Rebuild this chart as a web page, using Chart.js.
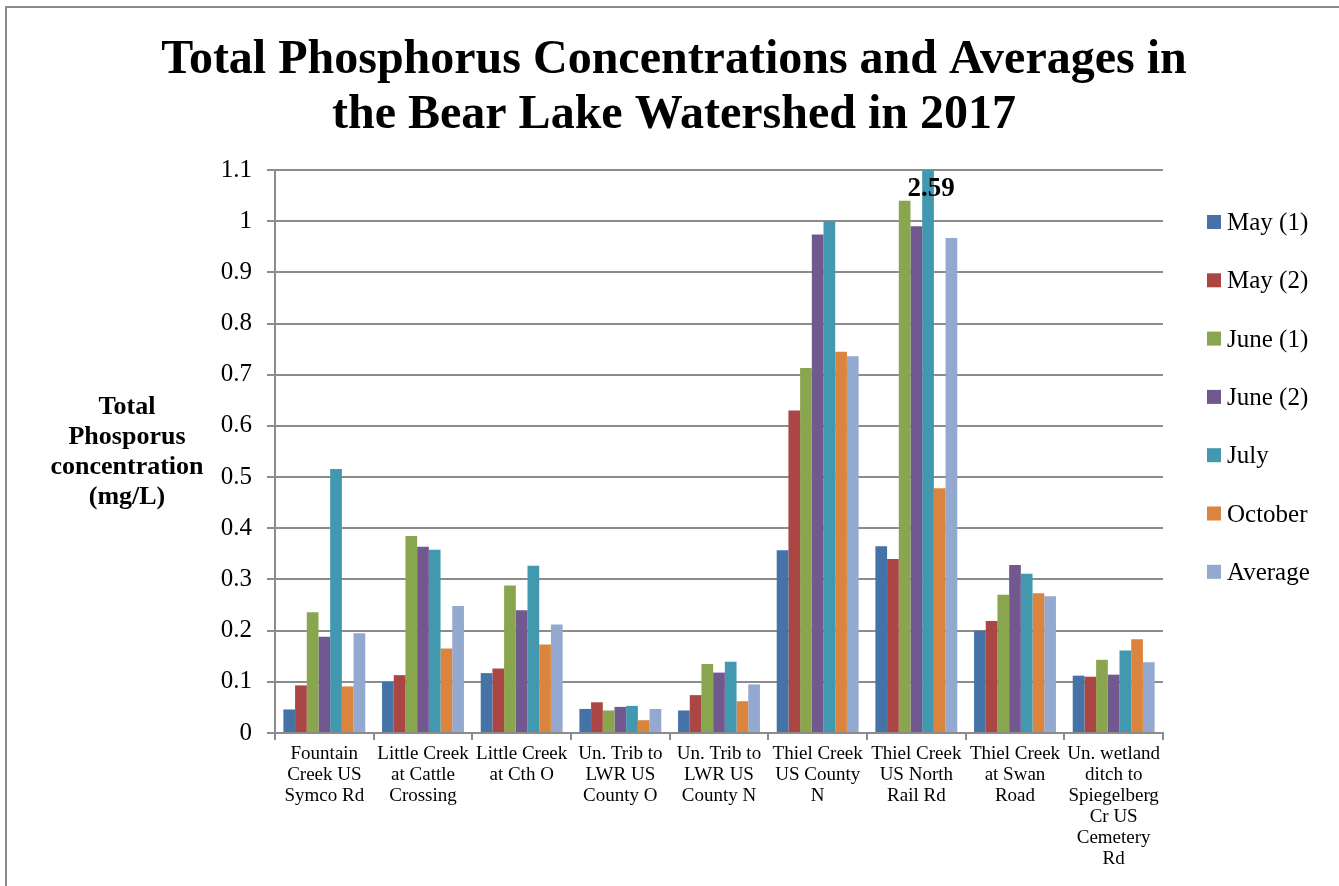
<!DOCTYPE html>
<html>
<head>
<meta charset="utf-8">
<title>Total Phosphorus Concentrations - Bear Lake Watershed 2017</title>
<script src="https://cdn.jsdelivr.net/npm/chart.js@4.4.0/dist/chart.umd.min.js"></script>
<style>
  html, body { margin: 0; padding: 0; background: #fff; overflow: hidden; }
  #wrap { position: relative; width: 1339px; height: 886px; }
</style>
</head>
<body>
<div id="wrap"><canvas id="chart" width="1339" height="886"></canvas></div>
<script>
// Sampling sites (multi-line category labels)
const sites = [
  ['Fountain', 'Creek US', 'Symco Rd'],
  ['Little Creek', 'at Cattle', 'Crossing'],
  ['Little Creek', 'at Cth O'],
  ['Un. Trib to', 'LWR US', 'County O'],
  ['Un. Trib to', 'LWR US', 'County N'],
  ['Thiel Creek', 'US County', 'N'],
  ['Thiel Creek', 'US North', 'Rail Rd'],
  ['Thiel Creek', 'at Swan', 'Road'],
  ['Un. wetland', 'ditch to', 'Spiegelberg', 'Cr US', 'Cemetery', 'Rd']
];

// Total phosphorus (mg/L) per sampling event
const seriesNames = ['May (1)', 'May (2)', 'June (1)', 'June (2)', 'July', 'October', 'Average'];
const may1    = [0.046, 0.100, 0.117, 0.047, 0.044, 0.357, 0.365, 0.200, 0.112];
const may2    = [0.093, 0.113, 0.126, 0.060, 0.074, 0.630, 0.340, 0.219, 0.110];
const june1   = [0.236, 0.385, 0.288, 0.044, 0.135, 0.713, 1.040, 0.270, 0.143];
const june2   = [0.188, 0.364, 0.240, 0.051, 0.118, 0.974, 0.990, 0.328, 0.114];
const july    = [0.516, 0.358, 0.327, 0.053, 0.139, 1.000, 2.59, 0.311, 0.161];
const october = [0.091, 0.165, 0.173, 0.025, 0.062, 0.745, 0.478, 0.273, 0.183];
const average = [0.195, 0.248, 0.212, 0.047, 0.095, 0.736, 0.967, 0.267, 0.138];

const seriesColors = ['#4572A7', '#AA4643', '#89A54E', '#71588F', '#4198AF', '#DB843D', '#93A9CF'];

// Axis text
const yTickLabels = ['0', '0.1', '0.2', '0.3', '0.4', '0.5', '0.6', '0.7', '0.8', '0.9', '1', '1.1'];
const yMax = 1.1;
const titleLines = ['Total Phosphorus Concentrations and Averages in', 'the Bear Lake Watershed in 2017'];
const yTitleLines = ['Total', 'Phosporus', 'concentration', '(mg/L)'];

// Bars that run past the axis maximum get their value written at the top
const offScaleSeries = 4;

const serif = '"Liberation Serif", "Times New Roman", serif';
const gridGray = '#8c8c8c';

const seriesData = [may1, may2, june1, june2, july, october, average];

const decorations = {
  id: 'decorations',
  beforeDraw(chart) {
    const ctx = chart.ctx;
    ctx.save();
    ctx.fillStyle = '#fff';
    ctx.fillRect(0, 0, chart.width, chart.height);

    // frame edges
    ctx.strokeStyle = gridGray;
    ctx.lineWidth = 2;
    ctx.beginPath();
    ctx.moveTo(6, chart.height);
    ctx.lineTo(6, 7);
    ctx.lineTo(chart.width, 7);
    ctx.stroke();

    // chart title
    ctx.fillStyle = '#000';
    ctx.textAlign = 'center';
    ctx.textBaseline = 'alphabetic';
    ctx.font = 'bold 48px ' + serif;
    titleLines.forEach((t, i) => ctx.fillText(t, 674, 73 + i * 55));

    // horizontal y-axis title
    ctx.font = 'bold 26px ' + serif;
    yTitleLines.forEach((t, i) => ctx.fillText(t, 127, 414 + i * 30));

    // legend
    ctx.textAlign = 'left';
    ctx.font = '25px ' + serif;
    seriesNames.forEach((name, i) => {
      const y = 215 + i * 58.3;
      ctx.fillStyle = seriesColors[i];
      ctx.fillRect(1207, y, 14, 14);
      ctx.fillStyle = '#000';
      ctx.fillText(name, 1227, y + 15);
    });
    ctx.restore();
  },
  afterDatasetsDraw(chart) {
    const ctx = chart.ctx;
    const meta = chart.getDatasetMeta(offScaleSeries);
    const values = seriesData[offScaleSeries];
    ctx.save();
    ctx.fillStyle = '#000';
    ctx.textAlign = 'center';
    ctx.textBaseline = 'alphabetic';
    ctx.font = 'bold 27px ' + serif;
    values.forEach((v, i) => {
      if (v > yMax) {
        const bar = meta.data[i];
        ctx.fillText(String(v), bar.x + 3, chart.chartArea.top + 26);
      }
    });
    ctx.restore();
  }
};

new Chart(document.getElementById('chart'), {
  type: 'bar',
  data: {
    labels: sites,
    datasets: seriesNames.map((name, i) => ({
      label: name,
      data: seriesData[i],
      backgroundColor: seriesColors[i],
      borderWidth: 0
    }))
  },
  options: {
    responsive: false,
    animation: false,
    events: [],
    layout: { padding: { left: 0, right: 176, top: 170, bottom: 0 } },
    datasets: { bar: { categoryPercentage: 0.83, barPercentage: 1.0 } },
    plugins: {
      legend: { display: false },
      title: { display: false },
      tooltip: { enabled: false }
    },
    scales: {
      x: {
        grid: {
          offset: true,
          drawOnChartArea: false,
          drawTicks: true,
          tickLength: 7,
          color: gridGray,
          lineWidth: 2
        },
        border: { color: gridGray, width: 2 },
        ticks: {
          autoSkip: false,
          maxRotation: 0,
          minRotation: 0,
          color: '#000',
          padding: 4,
          font: { family: serif, size: 19, lineHeight: 21 / 19 }
        },
        afterFit(scale) { scale.height = 153; }
      },
      y: {
        min: 0,
        max: yMax,
        grid: { color: gridGray, lineWidth: 2, tickLength: 8 },
        border: { color: gridGray, width: 2 },
        ticks: {
          stepSize: 0.1,
          color: '#000',
          padding: 15,
          font: { family: serif, size: 25 },
          callback: (value, index) => yTickLabels[index]
        },
        afterFit(scale) { scale.width = 275; }
      }
    }
  },
  plugins: [decorations]
});
</script>
</body>
</html>
